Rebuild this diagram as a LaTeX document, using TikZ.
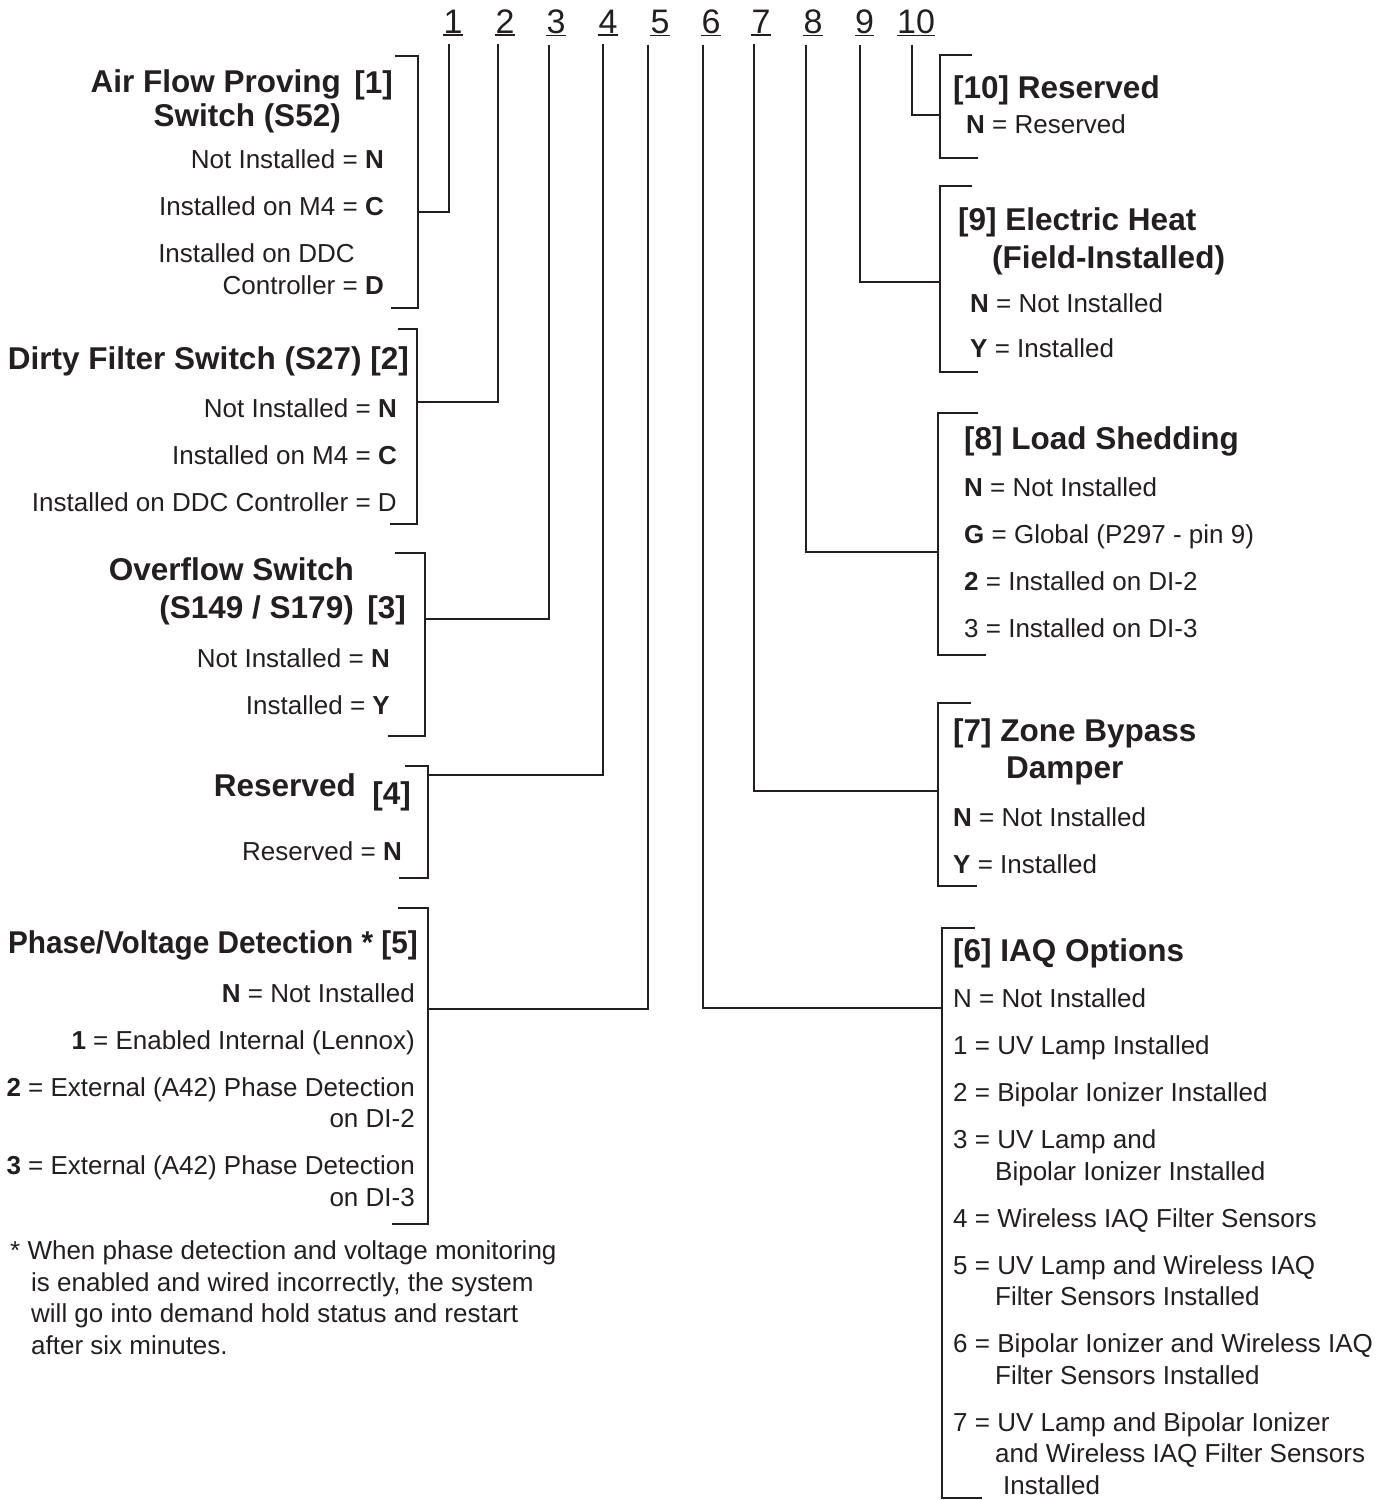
\documentclass[tikz,border=0pt]{standalone}
\usepackage{fontspec}
\setmainfont{Liberation Sans}
\usepackage{tikz}
\usetikzlibrary{positioning}
\definecolor{ink}{HTML}{231F20}

\begin{document}
\begin{tikzpicture}[
    x=1pt, y=-1pt,
    color=ink,
    digit/.style={font=\fontsize{34}{40}\selectfont, inner xsep=0pt, inner ysep=2pt, anchor=base},
    head/.style={font=\fontsize{31.5}{38}\selectfont\bfseries, inner sep=0pt},
    opt/.style={font=\fontsize{26}{31.5}\selectfont, inner sep=0pt},
    lgrp/.style={anchor=base east, align=right},
    rgrp/.style={anchor=base west, align=left},
    wire/.style={line width=2pt}
]
\useasboundingbox (0,0) rectangle (1395,1500);

\foreach \i/\x in {1/453, 2/505, 3/556, 4/608, 5/660, 6/711, 7/761, 8/813, 9/864.5, 10/916}
  \node[digit] (d\i) at (\x,33) {\i};
\foreach \i in {1,...,10}
  \draw[line width=1.6pt] (d\i.south west) -- (d\i.south east);

\node[head, lgrp] (h1) at (341,126) {Air Flow Proving\\[-4pt]Switch (S52)};
\node[head, anchor=base east] (t1) at (393,93) {[1]};
\node[opt, lgrp] (o1) at (384,294) {Not Installed = \textbf{N}\\[15.5pt]Installed on M4 = \textbf{C}\\[15.5pt]Installed on DDC\rule{29pt}{0pt}\\Controller = \textbf{D}};

\node[head, anchor=base east] (h2) at (409,369) {Dirty Filter Switch (S27) [2]};
\node[opt, lgrp] (o2) at (397,511) {Not Installed = \textbf{N}\\[15.5pt]Installed on M4 = \textbf{C}\\[15.5pt]Installed on DDC Controller = D};

\node[head, lgrp] (h3) at (354,618) {Overflow Switch\\(S149 / S179)};
\node[head, anchor=base east] (t3) at (406,618) {[3]};
\node[opt, lgrp] (o3) at (390,714) {Not Installed = \textbf{N}\\[15.5pt]Installed = \textbf{Y}};

\node[head, anchor=base east] (h4) at (356,796) {Reserved};
\node[head, anchor=base east] (t4) at (411,804) {[4]};
\node[opt, anchor=base east] (o4) at (402,860) {Reserved = \textbf{N}};

\node[head, anchor=base east] (h5) at (418,953) {\scalebox{0.945}[1]{Phase/Voltage Detection * [5]}};
\node[opt, lgrp] (o5) at (415,1206) {\textbf{N} = Not Installed\\[15.5pt]\textbf{1} = Enabled Internal (Lennox)\\[15.5pt]\textbf{2} = External (A42) Phase Detection\\on DI-2\\[15.5pt]\textbf{3} = External (A42) Phase Detection\\on DI-3};
\node[opt, rgrp] (note) at (10,1354) {* When phase detection and voltage monitoring\\\hspace*{21pt}is enabled and wired incorrectly, the system\\\hspace*{21pt}will go into demand hold status and restart\\\hspace*{21pt}after six minutes.};

\node[head, anchor=base west] (h10) at (953,98) {[10] Reserved};
\node[opt, anchor=base west] (o10) at (966,133) {\textbf{N} = Reserved};

\node[head, rgrp] (h9) at (958,268) {[9] Electric Heat\\\hspace*{34pt}(Field-Installed)};
\node[opt, rgrp] (o9) at (970,357) {\textbf{N} = Not Installed\\[13pt]\textbf{Y} = Installed};

\node[head, anchor=base west] (h8) at (964,449) {[8] Load Shedding};
\node[opt, rgrp] (o8) at (964,637) {\textbf{N} = Not Installed\\[15.5pt]\textbf{G} = Global (P297 - pin 9)\\[15.5pt]\textbf{2} = Installed on DI-2\\[15.5pt]3 = Installed on DI-3};

\node[head, rgrp] (h7) at (953,778) {[7] Zone Bypass\\[-1pt]\hspace*{53pt}Damper};
\node[opt, rgrp] (o7) at (953,873) {\textbf{N} = Not Installed\\[15.5pt]\textbf{Y} = Installed};

\node[head, anchor=base west] (h6) at (953,961) {[6] IAQ Options};
\node[opt, rgrp] (o6) at (953,1494) {N = Not Installed\\[15.5pt]1 = UV Lamp Installed\\[15.5pt]2 = Bipolar Ionizer Installed\\[15.5pt]3 = UV Lamp and\\\hspace*{42pt}Bipolar Ionizer Installed\\[15.5pt]4 = Wireless IAQ Filter Sensors\\[15.5pt]5 = UV Lamp and Wireless IAQ\\\hspace*{42pt}Filter Sensors Installed\\[15.5pt]6 = Bipolar Ionizer and Wireless IAQ\\\hspace*{42pt}Filter Sensors Installed\\[15.5pt]7 = UV Lamp and Bipolar Ionizer\\\hspace*{42pt}and Wireless IAQ Filter Sensors\\\hspace*{50pt}Installed};

\foreach \x/\ya/\yb/\xa/\xb in {418/56/308/395/391, 417/329/524/398/390, 425/553/736/395/388, 428/766/878/405/399, 428/908/1224/398/392, 940/55/158/972/978, 940/186/372/972/978, 938/413/655/978/986, 938/703/886/971/977, 942/928/1498/975/982}
  \draw[wire] (\xa,\ya) -- (\x,\ya) -- (\x,\yb) -- (\xb,\yb);

\foreach \i/\x/\y in {1/418/212, 2/417/402, 3/425/619, 4/428/775, 5/428/1009, 6/942/1008, 7/938/791, 8/938/552, 9/940/282, 10/940/115}
  \coordinate (c\i) at (\x,\y);

\foreach \i/\dx in {1/-4pt, 2/-7pt, 3/-7pt, 4/-5pt, 5/-12pt, 6/-8pt, 7/-7pt, 8/-7pt, 9/-5pt, 10/-4pt}
  \draw[wire] ([xshift=\dx, yshift=-9pt]d\i.south) |- (c\i);
\end{tikzpicture}
\end{document}
